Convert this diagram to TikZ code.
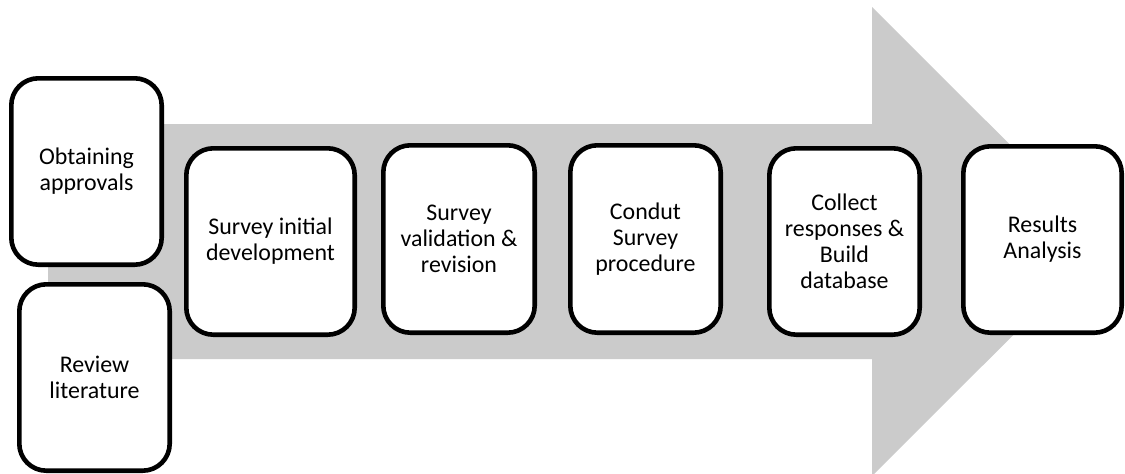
\documentclass[tikz,border=0pt]{standalone}
\usepackage{fontspec}
\setmainfont{Carlito}
\begin{document}
\begin{tikzpicture}[x=1pt,y=-1pt,
  stage/.style={draw=black, line width=4.6pt, fill=white, rounded corners=27pt,
    align=center, inner sep=0pt, font=\fontsize{23.9}{26}\selectfont},
]
\definecolor{flowgray}{RGB}{203,203,203}
\useasboundingbox (0,0) rectangle (1125,474);

% big process arrow in the background
\fill[flowgray] (48,124) -- (872,124) -- (872,7) -- (1107,241.5)
  -- (872,476) -- (872,359) -- (48,359) -- cycle;

% stage boxes (centred on their outer edges, border 4.6pt)
\node[stage, minimum width=150.4pt, minimum height=186.4pt] (obt) at (86.5,171.5) {Obtaining\\approvals};
\node[stage, minimum width=150.4pt, minimum height=186.4pt] (rev) at (94.5,377.5) {Review\\literature};
\node[stage, minimum width=168.4pt, minimum height=186.4pt] (s1) at (270.5,241.5) {Survey initial\\development};
\node[stage, minimum width=151.4pt, minimum height=187.4pt] (s2) at (459,239) {Survey\\validation \&\\revision};
\node[stage, minimum width=150.4pt, minimum height=187.4pt] (s3) at (645.5,239) {Condut\\Survey\\procedure};
\node[stage, minimum width=150.4pt, minimum height=186.4pt] (s4) at (844.5,241.5) {Collect\\responses \&\\Build\\database};
\node[stage, minimum width=158.4pt, minimum height=186.4pt] (s5) at (1042.5,239.5) {Results\\Analysis};
\end{tikzpicture}
\end{document}
